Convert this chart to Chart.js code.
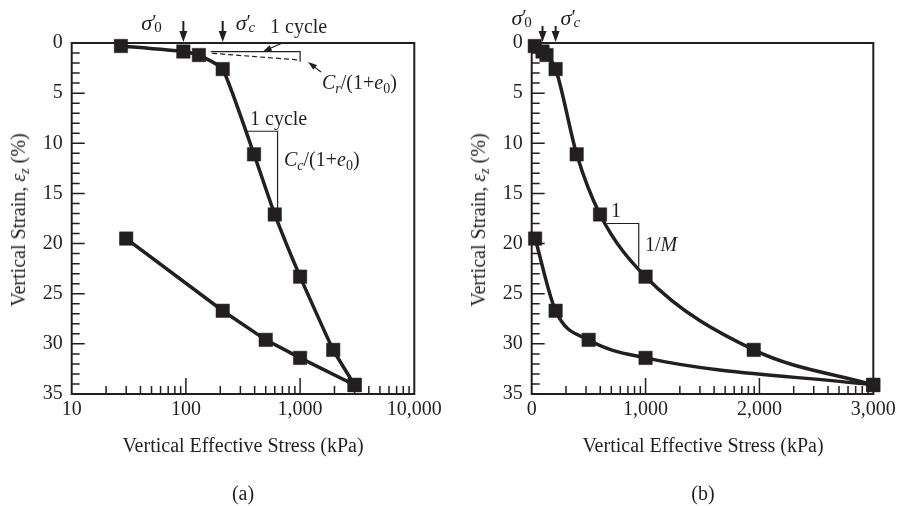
<!DOCTYPE html>
<html>
<head>
<meta charset="utf-8">
<script src="https://cdn.jsdelivr.net/npm/chart.js@4/dist/chart.umd.min.js"></script>
<style>
  body { margin: 0; background: #fff; width: 900px; height: 506px; position: relative; overflow: hidden;
         font-family: "Liberation Serif", "Times New Roman", serif; color: #231f20; }
  .box { position: absolute; top: 0; width: 450px; height: 506px; }
  .t { position: absolute; transform: translate(-50%, -50%); white-space: nowrap; font-size: 20px; line-height: 20px; }
  .rot { transform: translate(-50%, -50%) rotate(-90deg); }
  .t sub { font-size: 14px; vertical-align: -4px; line-height: 0; }
</style>
</head>
<body>
<div class="box" style="left:0"><canvas id="chartA" width="450" height="506"></canvas></div>
<div class="box" style="left:450px"><canvas id="chartB" width="450" height="506"></canvas></div>

<div class="t" style="left:243px;top:445px">Vertical Effective Stress (kPa)</div>
<div class="t" style="left:703px;top:445px">Vertical Effective Stress (kPa)</div>
<div class="t" style="left:243px;top:493px">(a)</div>
<div class="t" style="left:703px;top:493px">(b)</div>
<div class="t rot" style="left:18px;top:220px">Vertical Strain, <i>ε</i><sub><i>z</i></sub> (%)</div>
<div class="t rot" style="left:478px;top:220px">Vertical Strain, <i>ε</i><sub><i>z</i></sub> (%)</div>

<script>
// oedometer test: loading then unloading
const loadStress = [27, 95, 130, 210, 395, 600, 1000, 1950, 3000];
const loadStrain = [0.3, 0.85, 1.2, 2.6, 11.1, 17.1, 23.3, 30.6, 34.1];
const unloadStress = [30, 210, 500, 1000, 3000];
const unloadStrain = [19.5, 26.7, 29.6, 31.4, 34.1];

const inSituStress = 95;     // sigma'0
const preconStress = 210;    // sigma'c

const strainTicks = [0, 5, 10, 15, 20, 25, 30, 35];
const logTicks = [10, 100, 1000, 10000];
const linTicks = [0, 1000, 2000, 3000];

const ink = '#231f20';
const serif = '"Liberation Serif", "Times New Roman", serif';

const toXY = (xs, ys) => xs.map((v, i) => ({ x: v, y: ys[i] }));
const withCommas = v => String(v).replace(/\B(?=(\d{3})+(?!\d))/g, ',');

function dataset(xs, ys, extra) {
  return Object.assign({
    data: toXY(xs, ys),
    borderColor: ink,
    backgroundColor: ink,
    borderWidth: 3.5,
    pointStyle: 'rect',
    pointRadius: 9.5,
    pointHoverRadius: 9.5,
    pointBorderWidth: 0.5,
    clip: false,
  }, extra);
}

// text runs: style letters i = italic, s = subscript, p = no advance
function runs(ctx, x, base, parts) {
  parts.forEach(([t, st]) => {
    const it = st.includes('i'), sub = st.includes('s');
    ctx.font = (it ? 'italic ' : '') + (sub ? 14 : 20) + 'px ' + serif;
    ctx.fillText(t, x, base + (sub ? 4 : 0));
    if (!st.includes('p')) x += ctx.measureText(t).width;
  });
}

function sigma(ctx, x, base, sub, subItalic) {
  ctx.font = 'italic 22px ' + serif;
  ctx.fillText('σ', x, base);
  const w = ctx.measureText('σ').width;
  ctx.font = '20px ' + serif;
  ctx.fillText('′', x + w, base - 1);
  ctx.font = (subItalic ? 'italic ' : '') + '15px ' + serif;
  ctx.fillText(sub, x + w + 2, base + 2);
}

function arrow(ctx, x1, y1, x2, y2, head, half) {
  const a = Math.atan2(y2 - y1, x2 - x1), c = Math.cos(a), s = Math.sin(a);
  ctx.beginPath();
  ctx.moveTo(x1, y1);
  ctx.lineTo(x2 - c * head * 0.8, y2 - s * head * 0.8);
  ctx.stroke();
  ctx.beginPath();
  ctx.moveTo(x2, y2);
  ctx.lineTo(x2 - head * c + half * s, y2 - head * s - half * c);
  ctx.lineTo(x2 - head * c - half * s, y2 - head * s + half * c);
  ctx.closePath();
  ctx.fill();
}

function line(ctx, pts) {
  ctx.beginPath();
  pts.forEach(([x, y], i) => i ? ctx.lineTo(x, y) : ctx.moveTo(x, y));
  ctx.stroke();
}

// inward ticks and plot box
function makeFrame(minorX, majorX) {
  return {
    id: 'frame',
    afterDraw(chart) {
      const { ctx, chartArea: a, scales: { x, y } } = chart;
      ctx.save();
      ctx.strokeStyle = ink;
      ctx.lineWidth = 1.5;
      ctx.beginPath();
      for (let v = 1; v < 35; v++) {
        const p = y.getPixelForValue(v);
        ctx.moveTo(a.left, p);
        ctx.lineTo(a.left + (v % 5 === 0 ? 13 : 8), p);
      }
      minorX.forEach(v => {
        const p = x.getPixelForValue(v);
        ctx.moveTo(p, a.bottom);
        ctx.lineTo(p, a.bottom - 8);
      });
      majorX.forEach(v => {
        const p = x.getPixelForValue(v);
        ctx.moveTo(p, a.bottom);
        ctx.lineTo(p, a.bottom - 16);
      });
      ctx.stroke();
      ctx.lineWidth = 2;
      ctx.strokeRect(a.left, a.top, a.right - a.left, a.bottom - a.top);
      ctx.restore();
    }
  };
}

const notesA = {
  id: 'notesA',
  afterDatasetsDraw(chart) {
    const { ctx, chartArea: a, scales: { x, y } } = chart;
    const X = v => x.getPixelForValue(v), Y = v => y.getPixelForValue(v);
    ctx.save();
    ctx.strokeStyle = ink;
    ctx.fillStyle = ink;
    ctx.lineWidth = 2;
    const x0 = X(inSituStress), xc = X(preconStress);
    arrow(ctx, x0, 21, x0, a.top - 1, 11, 4);
    arrow(ctx, xc, 21, xc, a.top - 1, 11, 4);
    sigma(ctx, x0 - 42, 30, '0', false);
    sigma(ctx, xc + 13, 30, 'c', true);

    // recompression slope
    ctx.lineWidth = 1.2;
    line(ctx, [[X(165), Y(0.87)], [X(1000), Y(0.87)], [X(1000), Y(1.86)]]);
    ctx.setLineDash([5, 3]);
    line(ctx, [[X(170), Y(1.03)], [X(1000), Y(1.7)]]);
    ctx.setLineDash([]);
    arrow(ctx, X(700), a.top, X(470), Y(0.87), 9, 3);
    arrow(ctx, 321, 72, 308, 62, 9, 3);
    runs(ctx, 270, 33, [['1 cycle', '']]);
    runs(ctx, 322, 89, [['C', 'i'], ['r', 'is'], ['/(1+', ''], ['e', 'i'], ['0', 's'], [')', '']]);

    // compression slope
    line(ctx, [[X(344), Y(8.8)], [X(635), Y(8.8)], [X(635), Y(16.7)]]);
    runs(ctx, 250, 125, [['1 cycle', '']]);
    runs(ctx, 284, 166, [['C', 'i'], ['c', 'is'], ['/(1+', ''], ['e', 'i'], ['0', 's'], [')', '']]);
    ctx.restore();
  }
};

const notesB = {
  id: 'notesB',
  afterDatasetsDraw(chart) {
    const { ctx, chartArea: a, scales: { x, y } } = chart;
    const X = v => x.getPixelForValue(v), Y = v => y.getPixelForValue(v);
    ctx.save();
    ctx.strokeStyle = ink;
    ctx.fillStyle = ink;
    ctx.lineWidth = 2;
    const x0 = X(inSituStress), xc = X(preconStress);
    arrow(ctx, x0, 26, x0, a.top - 1, 11, 4);
    arrow(ctx, xc, 26, xc, a.top - 1, 11, 4);
    sigma(ctx, x0 - 31, 25, '0', false);
    sigma(ctx, xc + 5, 25, 'c', true);

    ctx.lineWidth = 1.2;
    line(ctx, [[X(660), Y(18)], [X(940), Y(18)], [X(940), Y(22.3)]]);
    ctx.textAlign = 'center';
    runs(ctx, 166, 217, [['1', '']]);
    ctx.textAlign = 'left';
    runs(ctx, 195, 251, [['1/', ''], ['M', 'i']]);
    ctx.restore();
  }
};

function options(xScale, padLeft, padRight) {
  const tickFont = { family: serif, size: 20 };
  return {
    responsive: false,
    animation: false,
    events: [],
    layout: { padding: { top: 43, right: padRight, bottom: 0, left: 0 } },
    plugins: { legend: { display: false }, tooltip: { enabled: false } },
    scales: {
      x: Object.assign({
        border: { display: false },
        grid: { display: false, drawTicks: false },
        ticks: { color: ink, font: tickFont, padding: 4, maxRotation: 0, autoSkip: false, callback: v => withCommas(v) },
        afterFit: s => { s.height = 112; },
      }, xScale),
      y: {
        reverse: true,
        min: 0,
        max: 35,
        border: { display: false },
        grid: { display: false, drawTicks: false },
        ticks: { color: ink, font: tickFont, padding: 9 },
        afterBuildTicks: s => { s.ticks = strainTicks.map(v => ({ value: v })); },
        afterFit: s => { s.width = padLeft; },
      }
    }
  };
}

const logMinor = [];
[10, 100, 1000].forEach(d => { for (let k = 2; k <= 9; k++) logMinor.push(d * k); });
const linMinor = [];
[0, 1000, 2000].forEach(d => { for (let k = 2; k <= 9; k++) linMinor.push(d + 1000 * Math.log10(k)); });

new Chart(document.getElementById('chartA'), {
  type: 'line',
  data: {
    datasets: [
      dataset(loadStress, loadStrain, { tension: 0.15 }),
      dataset(unloadStress, unloadStrain, { tension: 0 }),
    ]
  },
  options: options({
    type: 'logarithmic', min: 10, max: 10000,
    afterBuildTicks: s => { s.ticks = logTicks.map(v => ({ value: v })); },
  }, 71.7, 35.7),
  plugins: [makeFrame(logMinor, [100, 1000]), notesA],
});

new Chart(document.getElementById('chartB'), {
  type: 'line',
  data: {
    datasets: [
      dataset(loadStress, loadStrain, { cubicInterpolationMode: 'monotone' }),
      dataset(unloadStress, unloadStrain, { cubicInterpolationMode: 'monotone' }),
    ]
  },
  options: options({
    type: 'linear', min: 0, max: 3000,
    afterBuildTicks: s => { s.ticks = linTicks.map(v => ({ value: v })); },
  }, 81.7, 26.7),
  plugins: [makeFrame(linMinor, [1000, 2000]), notesB],
});
</script>
</body>
</html>
